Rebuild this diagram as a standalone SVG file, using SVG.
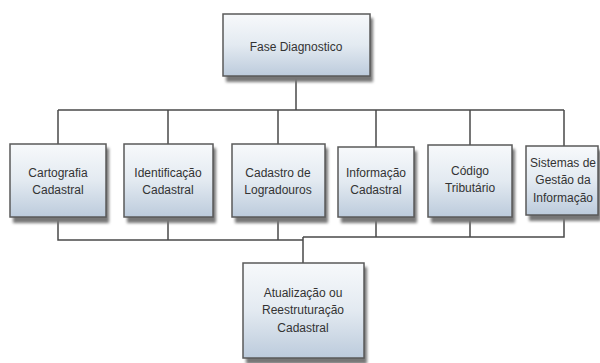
<svg xmlns="http://www.w3.org/2000/svg" width="600" height="363" viewBox="0 0 600 363">
<defs>
<linearGradient id="g" x1="0" y1="0" x2="0" y2="1">
<stop offset="0" stop-color="#f7f9fb"/>
<stop offset="0.5" stop-color="#e3eaf1"/>
<stop offset="1" stop-color="#bccbdc"/>
</linearGradient>
<filter id="sh" x="-10%" y="-10%" width="130%" height="140%">
<feGaussianBlur stdDeviation="1.5"/>
</filter>
</defs>
<style>
.box{fill:url(#g);stroke:#5a5a5a;stroke-width:1.5}
.shadow{fill:#777;filter:url(#sh)}
.t{font-family:"Liberation Sans",Arial,sans-serif;font-size:12px;fill:#333;text-anchor:middle}
.c{fill:none;stroke:#4a4a4a;stroke-width:1.5}
</style>
<rect width="600" height="363" fill="#fff"/>
<g id="connectors">
<path class="c" d="M296 76V110M58 110H564M58 110V144M168 110V144M278 110V144M376 110V147M470 110V145M564 110V146"/>
<path class="c" d="M58 217V240H303M168 217V240M278 217V240M303 237V263M303 237H564V215M376 217V237M470 217V237"/>
</g>
<g id="n0">
<rect class="shadow" x="226" y="18" width="147" height="64"/>
<rect class="box" x="223" y="14" width="147" height="62"/>
<text class="t" x="296" y="51">Fase Diagnostico</text>
</g>
<g id="n1">
<rect class="shadow" x="13" y="148" width="96" height="75"/>
<rect class="box" x="10" y="144" width="96" height="73"/>
<text class="t" x="58" y="177">Cartografia</text>
<text class="t" x="58" y="194">Cadastral</text>
</g>
<g id="n2">
<rect class="shadow" x="127" y="148" width="89" height="75"/>
<rect class="box" x="124" y="144" width="89" height="73"/>
<text class="t" x="168" y="177">Identificação</text>
<text class="t" x="168" y="194">Cadastral</text>
</g>
<g id="n3">
<rect class="shadow" x="235" y="148" width="93" height="75"/>
<rect class="box" x="232" y="144" width="93" height="73"/>
<text class="t" x="278" y="177">Cadastro de</text>
<text class="t" x="278" y="194">Logradouros</text>
</g>
<g id="n4">
<rect class="shadow" x="341" y="151" width="76" height="72"/>
<rect class="box" x="338" y="147" width="76" height="70"/>
<text class="t" x="376" y="177">Informação</text>
<text class="t" x="376" y="194">Cadastral</text>
</g>
<g id="n5">
<rect class="shadow" x="431" y="149" width="84" height="74"/>
<rect class="box" x="428" y="145" width="84" height="72"/>
<text class="t" x="470" y="175">Código</text>
<text class="t" x="470" y="192">Tributário</text>
</g>
<g id="n6">
<rect class="shadow" x="529" y="150" width="72" height="71"/>
<rect class="box" x="526" y="146" width="72" height="69"/>
<text class="t" x="563" y="167">Sistemas de</text>
<text class="t" x="563" y="184">Gestão da</text>
<text class="t" x="563" y="202">Informação</text>
</g>
<g id="n7">
<rect class="shadow" x="246" y="267" width="121" height="97"/>
<rect class="box" x="243" y="263" width="121" height="95"/>
<text class="t" x="303" y="297">Atualização ou</text>
<text class="t" x="303" y="314">Reestruturação</text>
<text class="t" x="303" y="332">Cadastral</text>
</g>
</svg>
